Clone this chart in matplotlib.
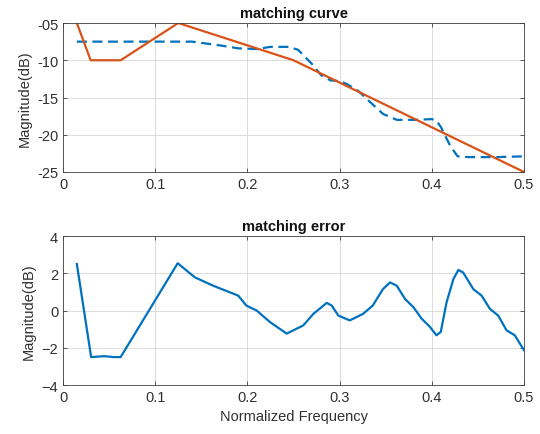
import matplotlib
matplotlib.use('Agg')
import matplotlib.pyplot as plt

plt.rcParams['font.family'] = ['Liberation Sans', 'DejaVu Sans']

# approximation (piecewise linear) - orange
approx_f = [0.015, 0.03, 0.0625, 0.125, 0.25, 0.5]
approx_db = [-5, -10, -10, -5, -10, -25]

# target response - blue dashed
target_f = [0.015, 0.06, 0.10, 0.14, 0.17, 0.19, 0.21, 0.225, 0.245, 0.255, 0.27,
            0.28, 0.29, 0.30, 0.308, 0.32, 0.333, 0.347, 0.362, 0.38, 0.40, 0.405,
            0.41, 0.42, 0.428, 0.44, 0.47, 0.5]
target_db = [-7.5, -7.5, -7.5, -7.5, -8.0, -8.4, -8.5, -8.2, -8.2, -8.6, -10.5,
             -12.0, -12.7, -12.8, -13.2, -14.1, -15.6, -17.2, -18.0, -18.0, -17.9, -18.1,
             -19.0, -21.5, -22.9, -23.0, -23.0, -22.9]

# matching error
err_f = [0.015, 0.0305, 0.045, 0.055, 0.0625, 0.1244, 0.143, 0.163, 0.19, 0.199,
         0.21, 0.2245, 0.2426, 0.2606, 0.2715, 0.286, 0.2914, 0.2986, 0.311, 0.3254,
         0.336, 0.347, 0.3547, 0.362, 0.371, 0.38, 0.389, 0.398, 0.405, 0.4097,
         0.416, 0.4234, 0.4288, 0.434, 0.445, 0.454, 0.463, 0.472, 0.481, 0.49, 0.5]
err_db = [2.5, -2.5, -2.45, -2.5, -2.5, 2.54, 1.78, 1.33, 0.8, 0.26,
          0.0, -0.62, -1.24, -0.8, -0.18, 0.41, 0.27, -0.27, -0.53, -0.18,
          0.27, 1.15, 1.51, 1.33, 0.62, 0.18, -0.44, -0.88, -1.33, -1.15,
          0.44, 1.69, 2.18, 2.04, 1.15, 0.8, 0.09, -0.27, -1.06, -1.33, -2.13]

xticks = [0, 0.1, 0.2, 0.3, 0.4, 0.5]
xticklabels = ['0', '0.1', '0.2', '0.3', '0.4', '0.5']
top_yticks = [-25, -20, -15, -10, -5]
top_yticklabels = ['-25', '-20', '-15', '-10', '-05']
bot_yticks = [-4, -2, 0, 2, 4]

blue = '#0072BD'
orange = '#D95319'
txt = '#303030'

fig = plt.figure(figsize=(5.4, 4.35), dpi=100)
ax1 = fig.add_axes([0.1167, 0.6023, 0.8537, 0.3425])
ax2 = fig.add_axes([0.1167, 0.1126, 0.8537, 0.3425])


def style(ax):
    ax.grid(True, color='#dcdcdc', linewidth=0.7)
    ax.set_axisbelow(True)
    ax.tick_params(direction='in', top=True, right=True, labelsize=10.5,
                   length=3, width=0.6, colors='#404040', labelcolor=txt)
    for s in ax.spines.values():
        s.set_color('#404040')
        s.set_linewidth(0.6)
    ax.set_xlim(0, 0.5)
    ax.set_xticks(xticks)
    ax.set_xticklabels(xticklabels)


ax1.plot(target_f, target_db, '--', color=blue, linewidth=1.6, dashes=(4.5, 2.5))
ax1.plot(approx_f, approx_db, '-', color=orange, linewidth=1.6)
style(ax1)
ax1.set_ylim(-25, -5)
ax1.set_yticks(top_yticks)
ax1.set_yticklabels(top_yticklabels)
ax1.set_ylabel('Magnitude(dB)', fontsize=10.5, color=txt)
ax1.set_title('matching curve', fontsize=10.5, fontweight='bold', pad=4, color='#111111')

ax2.plot(err_f, err_db, '-', color=blue, linewidth=1.6)
style(ax2)
ax2.set_ylim(-4, 4)
ax2.set_yticks(bot_yticks)
ax2.set_ylabel('Magnitude(dB)', fontsize=10.5, color=txt)
ax2.set_xlabel('Normalized Frequency', fontsize=10.5, color=txt)
ax2.set_title('matching error', fontsize=10.5, fontweight='bold', pad=4, color='#111111')

fig.savefig('out.png', dpi=100)
